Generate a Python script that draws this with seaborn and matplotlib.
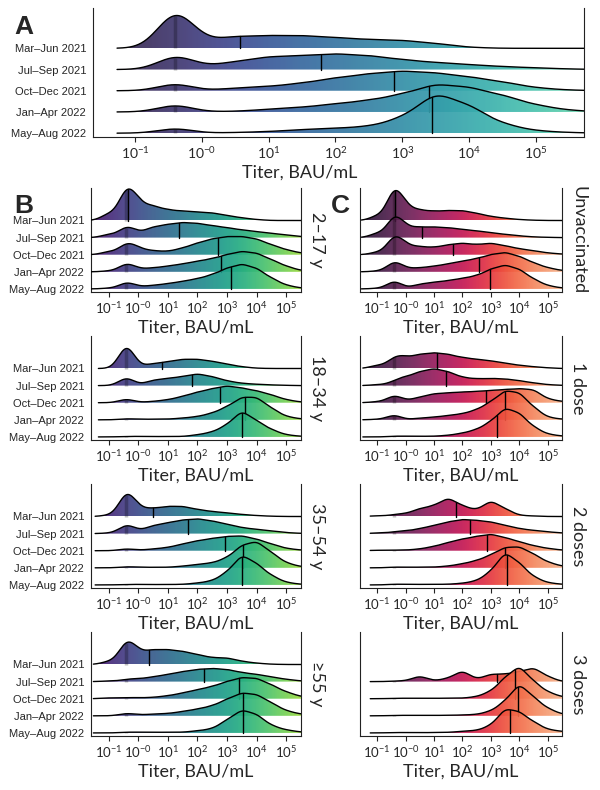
import numpy as np
import matplotlib
matplotlib.use("Agg")
import matplotlib.pyplot as plt
from matplotlib.colors import ListedColormap
from matplotlib.patches import Polygon
import seaborn as sns

# ---------------- data: log10 titer (BAU/mL) ----------------
LOG_TITER = [-1.0, -0.4, 0.0, 0.5, 1.0, 1.5, 2.0, 2.5, 3.0, 3.5, 4.0, 4.5, 5.0, 5.5]
LOD = -0.4  # pile-up of results at the detection limit

PERIODS = ["Mar–Jun 2021", "Jul–Sep 2021", "Oct–Dec 2021", "Jan–Apr 2022", "May–Aug 2022"]
AGE_GROUPS = ["2–17 y", "18–34 y", "35–54 y", "≥55 y"]
VACC_GROUPS = ["Unvaccinated", "1 dose", "2 doses", "3 doses"]
TICKS = [-1, 0, 1, 2, 3, 4, 5]
TICK_LABELS = [r"$10^{-1}$", r"$10^{-0}$", r"$10^{1}$", r"$10^{2}$",
               r"$10^{3}$", r"$10^{4}$", r"$10^{5}$"]

# relative counts at LOG_TITER, one row per period (top ridge first)
A_W = [
    [0, 31, 5, 9, 9.5, 9.5, 8, 6.5, 6, 3.7, 0.7, 0, 0, 0],
    [0, 11.3, 2.1, 5.9, 9.6, 10.4, 11.8, 10.4, 7.4, 5.2, 3.7, 2.2, 1.3, 0.4],
    [0, 6, 0, 2, 3.2, 5.7, 9.6, 12.6, 14.8, 13.3, 10.4, 6.7, 2.2, 0.5],
    [0, 6, 0, 0.5, 2, 3.5, 6.1, 8.7, 13.3, 21, 18.5, 12.6, 5.2, 1.3],
    [0, 4.1, 0, 0.5, 1.2, 2.7, 3.7, 5, 11.5, 31, 21, 7, 1.8, 0.5],
]
A_MED = [0.57, 1.79, 2.88, 3.40, 3.45]

B1_W = [
    [5.5, 25.5, 13.5, 11, 8, 7, 6.4, 5.7, 3.7, 2, 0.7, 0, 0, 0],
    [2.6, 8.7, 3.3, 8.1, 9.8, 11.3, 10.6, 8.9, 7.4, 5.7, 4.4, 3.2, 2, 0.8],
    [2.5, 8.9, 4.8, 3, 2.4, 5, 8.7, 11.8, 13.5, 13.5, 11.8, 7.4, 3.7, 1.3],
    [0.7, 6.6, 2, 3, 4.2, 5.9, 7.9, 9.8, 12.8, 15.3, 14, 9.1, 4.2, 1],
    [0.6, 5.2, 1.5, 2.7, 3.9, 5.7, 7.6, 10.6, 15.5, 18.7, 15.5, 8.1, 2.7, 0.7],
]
B1_MED = [-0.35, 1.36, 2.69, 2.81, 3.15]

B2_W = [
    [0, 19.6, 1.1, 3.7, 5, 6.9, 6.9, 5.4, 3.2, 1.3, 0.2, 0, 0, 0],
    [0, 6.6, 0.3, 4.2, 5.4, 6.7, 8.9, 6.7, 3.5, 1.7, 1, 0.5, 0.2, 0],
    [0, 3, 0.1, 1, 2.2, 4.7, 7.9, 10.4, 12.6, 10.9, 8.9, 5.9, 2.2, 0.5],
    [0, 0.8, 0.35, 0.5, 0.5, 1.3, 2.4, 5, 9.8, 17, 17, 8.7, 2.4, 0.7],
    [0, 0.4, 0.3, 0.3, 0.3, 0.3, 1.6, 3.6, 9, 20, 12, 5.5, 1.5, 0.5],
]
B2_MED = [0.79, 1.80, 2.77, 3.61, 3.50]

B3_W = [
    [1, 19.6, 6.1, 6.1, 7.6, 7.6, 5.2, 3.7, 2.7, 1.5, 0.7, 0.2, 0, 0],
    [0.4, 7.1, 1.8, 6.1, 8.1, 10.1, 11.1, 9.4, 6.9, 4.4, 3.2, 2, 0.7, 0.2],
    [0, 1.5, 0.3, 1.3, 2.4, 5, 7.4, 9.1, 10.6, 11.1, 8.7, 5, 1.7, 0.5],
    [0, 0.8, 0.4, 0.4, 0.4, 1.2, 2.6, 3.6, 7.5, 17, 20, 11.5, 3.6, 0.9],
    [0, 0.4, 0.3, 0.3, 0.3, 0.4, 1.4, 3, 9.5, 23, 16, 7, 1.8, 0.5],
]
B3_MED = [0.50, 1.68, 2.94, 3.53, 3.50]

B4_W = [
    [2.4, 18.5, 9.1, 11.1, 11.1, 9.8, 7.4, 5, 5, 2.4, 1, 0.2, 0, 0],
    [0.5, 1.5, 2, 3.5, 5.4, 7.4, 9.1, 9.8, 9.1, 6.7, 5.4, 3.5, 1.7, 0.5],
    [0.7, 0.8, 0.6, 1, 2.2, 4.2, 6.7, 9.1, 12.8, 15.8, 15.3, 10.4, 5, 1.7],
    [0, 1.9, 0.6, 1.3, 1.7, 3.2, 5, 7.4, 12.4, 17.2, 16, 9.8, 3.7, 1.3],
    [0, 0.5, 0.5, 0.5, 0.5, 0.5, 1.6, 3, 9.8, 17.5, 14, 5.5, 2.2, 0.7],
]
B4_MED = [0.35, 2.21, 3.42, 3.53, 3.53]

C1_W = [
    [3.8, 25.4, 10.8, 7.9, 6.9, 7.4, 7.4, 5.4, 3, 1.7, 0.7, 0.2, 0, 0],
    [3.5, 17.1, 7.9, 7.9, 7.9, 7.4, 6.1, 5, 3.7, 2.4, 1.3, 0.5, 0.2, 0],
    [2, 14.7, 7.3, 6.1, 5.4, 7.4, 8.7, 7.4, 8.7, 6.7, 4.4, 3, 1.3, 0.5],
    [0.6, 8.1, 2.4, 3, 4.2, 5.9, 7.9, 9.8, 12.8, 14.6, 11.6, 6.7, 3, 1],
    [0.45, 6.5, 0.5, 3.7, 5, 6.1, 7.9, 9.8, 14.8, 18, 14.8, 7.4, 2.4, 0.7],
]
C1_MED = [-0.38, 0.58, 1.68, 2.58, 2.98]

C2_W = [
    [2.6, 8.1, 8.1, 10.6, 11.8, 10.6, 8.1, 6.9, 5.7, 3.9, 2.4, 1.3, 0.5, 0],
    [0.75, 2.9, 6.4, 10.4, 12.8, 10.4, 6.1, 5, 5.4, 5, 3.7, 2, 0.7, 0.2],
    [0.8, 5.8, 1.3, 4.2, 6.7, 7.4, 7.9, 8.4, 9.1, 9.8, 10.4, 10, 2.7, 1],
    [0.4, 4, 0, 1.3, 2, 3.2, 4.5, 7.5, 13.5, 22, 20.5, 9.5, 1.8, 0.5],
    [0, 0.5, 0.5, 0.5, 0.5, 1.2, 2.8, 5.5, 11.5, 22, 18, 7.5, 2, 0.7],
]
C2_MED = [1.12, 1.42, 2.82, 3.51, 3.22]

C3_W = [
    [0.6, 1.2, 2, 6, 8, 14.3, 8, 4.5, 12.3, 5.8, 0.8, 0.4, 0, 0],
    [0.5, 1.2, 1.8, 3.7, 6.1, 8.7, 10.6, 9.8, 8.7, 6.1, 3.7, 2.4, 1.3, 0.5],
    [0.4, 0.4, 0.4, 1.3, 3.2, 6.1, 8.7, 10.6, 12.4, 9.8, 6.7, 3.7, 1.7, 0.5],
    [0, 0.5, 0.4, 0.5, 0.5, 1.3, 3, 5.4, 9.6, 15.3, 15.8, 10.4, 4.2, 1.3],
    [0, 0.5, 0.4, 0.4, 0.4, 0.5, 1.2, 3, 10, 25, 16.5, 6, 1.6, 0.5],
]
C3_MED = [1.76, 2.25, 2.85, 3.50, 3.55]

# no 3-dose data in Mar-Jun 2021: ridges start at Jul-Sep 2021
C4_W = [
    [0, 0.3, 0.5, 4.5, 0.5, 2.5, 8.6, 1.5, 5.7, 5.5, 7.3, 10.7, 3.8, 0],
    [0, 0.3, 0.3, 0.3, 0.3, 0.4, 0.4, 1.5, 5.5, 16, 25, 13, 5, 1.5],
    [0, 0.3, 0.3, 0.3, 0.3, 0.4, 0.6, 1, 3.5, 11, 24.5, 14, 5.5, 1.3],
    [0, 0.3, 0.2, 0.2, 0.3, 0.4, 1.2, 1.8, 5.5, 18.5, 16, 8.3, 2.5, 1.2],
]
C4_MED = [3.2, 3.85, 3.96, 3.67]

# lowest titer drawn in each panel
A_START = -1.27
B_START = [-1.64, -1.35, -1.46, -1.52]
C_START = [-1.55, -1.5, -1.24, -1.24]

# ---------------- style ----------------
sns.set_theme(style="white")
plt.rcParams["font.family"] = ["Lato", "DejaVu Sans"]
plt.rcParams["mathtext.fontset"] = "custom"
plt.rcParams["mathtext.rm"] = "Lato"
plt.rcParams["mathtext.it"] = "Lato:italic"
plt.rcParams["mathtext.bf"] = "Lato:bold"

BW = 0.27
YLIM = (-0.18, 5.9)
XLIM_A = (-1.63, 5.72)
XLIM_BC = (-1.6, 5.5)
FIG_W, FIG_H = 600, 790


def part_cmap(name, lo, hi):
    full = sns.color_palette(name, as_cmap=True)
    return ListedColormap(full(np.linspace(lo, hi, 256)))


fig = plt.figure(figsize=(FIG_W / 100, FIG_H / 100), dpi=100)


def panel(px_rect, weights, medians, start, xlim, cmap, ylabels=None,
          right_label=None, tick_fs=9.5):
    x0, y0, x1, y1 = px_rect
    ax = fig.add_axes([x0 / FIG_W, 1 - y1 / FIG_H, (x1 - x0) / FIG_W, (y1 - y0) / FIG_H])
    spacing_px = (y1 - y0) / (YLIM[1] - YLIM[0])
    n = len(weights)
    for i, (w, med) in enumerate(zip(weights, medians)):
        base = n - 1 - i
        zo = 3 + 4 * i
        w = np.asarray(w, float)
        sd = np.sqrt(np.cov(LOG_TITER, aweights=w))
        k = len(ax.lines)
        sns.kdeplot(x=LOG_TITER, weights=w, bw_method=BW / sd, cut=6,
                    clip=(start, xlim[1]), gridsize=500, color="black",
                    linewidth=1.0, zorder=zo + 3, ax=ax)
        line = ax.lines[k]
        xs, dens = line.get_data()
        xs = np.asarray(xs)
        ys = base + np.asarray(dens) * w.sum() * BW * np.sqrt(2 * np.pi) / spacing_px
        line.set_ydata(ys)

        poly = Polygon(np.column_stack([np.r_[xs[0], xs, xs[-1]], np.r_[base, ys, base]]),
                       closed=True, facecolor="none", edgecolor="none")
        ax.add_patch(poly)
        im = ax.imshow(np.linspace(0, 1, 256)[None, :],
                       extent=(xlim[0], xlim[1], base, ys.max()), origin="lower",
                       aspect="auto", cmap=cmap, alpha=0.92, zorder=zo,
                       interpolation="bilinear")
        im.set_clip_path(poly)
        ax.plot([LOD, LOD], [base, np.interp(LOD, xs, ys)], color="black",
                alpha=0.25, lw=2.5, solid_capstyle="butt", zorder=zo + 1)
        ax.plot([med, med], [base, np.interp(med, xs, ys)], color="black",
                lw=1.0, zorder=zo + 3)

    ax.set_xlim(xlim)
    ax.set_ylim(YLIM)
    ax.set_xticks(TICKS)
    ax.set_xticklabels(TICK_LABELS, fontsize=tick_fs)
    ax.set_xlabel("Titer, BAU/mL", fontsize=13, labelpad=3)
    ax.set_ylabel("")
    ax.set_yticks(list(range(n)))
    if ylabels is not None:
        ax.set_yticklabels(ylabels[::-1], fontsize=8, fontfamily="Liberation Sans")
    else:
        ax.set_yticklabels([])
    ax.tick_params(axis="y", length=0, pad=5)
    ax.tick_params(axis="x", bottom=True, length=3.5, width=0.8, pad=2, color="#222")
    for s in ["left", "bottom", "right"]:
        ax.spines[s].set_visible(True)
        ax.spines[s].set_color("#222")
        ax.spines[s].set_linewidth(0.8)
    ax.spines["top"].set_visible(False)
    if right_label is not None:
        ax.annotate(right_label, xy=(1, 0.5), xycoords="axes fraction",
                    xytext=(6, 0), textcoords="offset points", rotation=270,
                    ha="left", va="center", fontsize=13)
    return ax


# panel A: all participants
axA = panel((93, 8, 584, 137), A_W, A_MED, A_START, XLIM_A,
            part_cmap("mako", 0.15, 0.82), ylabels=PERIODS, tick_fs=10)
axA.xaxis.label.set_x((300 - 93) / (584 - 93))

# panels B (age) and C (vaccination)
B_W = [B1_W, B2_W, B3_W, B4_W]
B_MED = [B1_MED, B2_MED, B3_MED, B4_MED]
C_W = [C1_W, C2_W, C3_W, C4_W]
C_MED = [C1_MED, C2_MED, C3_MED, C4_MED]
for r in range(4):
    top, bot = 188 + 148 * r, 292 + 148 * r
    panel((91, top, 301, bot), B_W[r], B_MED[r], B_START[r], XLIM_BC,
          part_cmap("viridis", 0.05, 0.85), ylabels=PERIODS,
          right_label=AGE_GROUPS[r])
    panel((360, top, 562, bot), C_W[r], C_MED[r], C_START[r], XLIM_BC,
          part_cmap("rocket", 0.1, 0.85), right_label=VACC_GROUPS[r])

for letter, (px, py) in {"A": (14, 34), "B": (14, 213), "C": (331, 213)}.items():
    fig.text(px / FIG_W, 1 - py / FIG_H, letter, fontsize=19, fontweight="bold",
             fontfamily="Liberation Sans", ha="left", va="baseline")

fig.savefig("out.png", dpi=100)
